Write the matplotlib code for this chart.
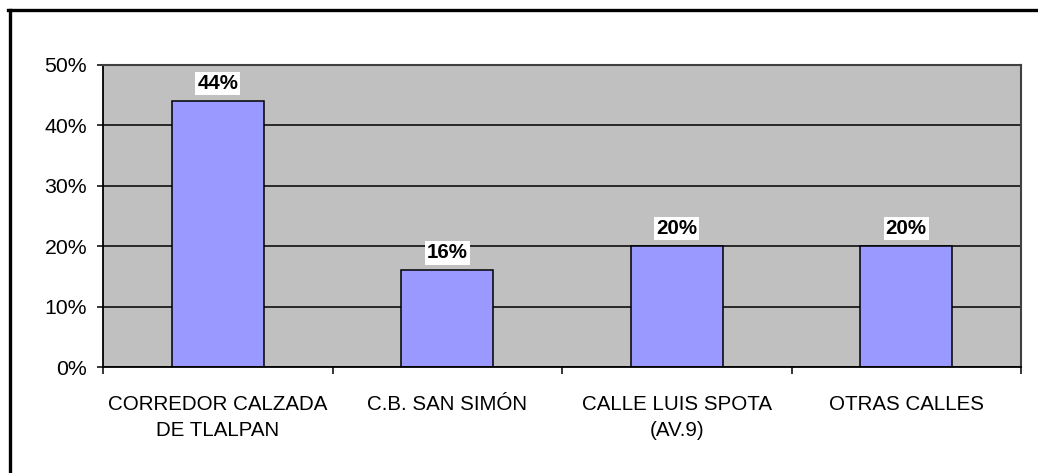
import matplotlib.pyplot as plt
from matplotlib.lines import Line2D
import numpy as np

plt.rcParams['font.family'] = ['Liberation Sans', 'DejaVu Sans']

categories = ["CORREDOR CALZADA\nDE TLALPAN", "C.B. SAN SIMÓN",
              "CALLE LUIS SPOTA\n(AV.9)", "OTRAS CALLES"]
values = [0.44, 0.16, 0.20, 0.20]
bar_labels = ["44%", "16%", "20%", "20%"]
y_ticks = [0, 0.1, 0.2, 0.3, 0.4, 0.5]
y_tick_labels = ["0%", "10%", "20%", "30%", "40%", "50%"]

fig = plt.figure(figsize=(10.38, 4.73), dpi=100)
ax = fig.add_axes([103 / 1038, 1 - 367 / 473, 918 / 1038, 302 / 473])
ax.set_facecolor("#C0C0C0")

x = np.arange(len(categories))
ax.set_axisbelow(True)
ax.yaxis.grid(True, color="black", linewidth=1.1)
ax.bar(x, values, width=0.4, color="#9999FF", edgecolor="black", linewidth=1.1, zorder=2)

for xi, v, lab in zip(x, values, bar_labels):
    ax.annotate(lab, (xi, v), xytext=(0, 12.5), textcoords="offset points",
                ha="center", va="center", fontsize=14.8, fontweight="bold",
                bbox=dict(facecolor="white", edgecolor="none", pad=1.5), zorder=3)

ax.set_xlim(-0.5, len(categories) - 0.5)
ax.set_ylim(0, 0.5)
ax.set_yticks(y_ticks)
ax.set_yticklabels(y_tick_labels, fontsize=15.3)
ax.tick_params(axis="y", length=4.5, width=1.1, pad=7)

ax.set_xticks(x)
ax.set_xticklabels(categories, fontsize=14.8, linespacing=1.5)
ax.set_xticks(np.arange(len(categories) + 1) - 0.5, minor=True)
ax.tick_params(axis="x", which="major", length=0, pad=20)
ax.tick_params(axis="x", which="minor", length=5, width=1.1)

for side in ["left", "bottom"]:
    ax.spines[side].set_color("black")
    ax.spines[side].set_linewidth(1.3)
for side in ["top", "right"]:
    ax.spines[side].set_color("#404040")
    ax.spines[side].set_linewidth(1.5)

# outer chart frame (only left and top edges are visible)
fig.add_artist(Line2D([9.5 / 1038, 9.5 / 1038], [0, 1 - 10.5 / 473],
                      transform=fig.transFigure, color="black", linewidth=2.4))
fig.add_artist(Line2D([8.3 / 1038, 1], [1 - 10.5 / 473, 1 - 10.5 / 473],
                      transform=fig.transFigure, color="black", linewidth=2.4))

fig.savefig("out.png", dpi=100, facecolor="white")
